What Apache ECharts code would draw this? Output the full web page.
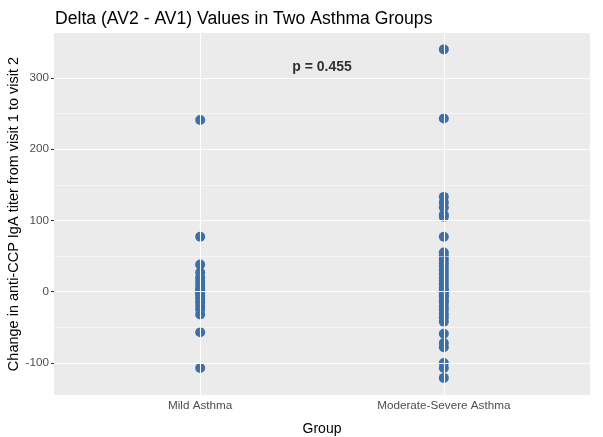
<!DOCTYPE html>
<html><head><meta charset="utf-8">
<script src="https://cdn.jsdelivr.net/npm/echarts@6/dist/echarts.min.js"></script>
<style>html,body{margin:0;padding:0;background:#fff}#c{width:603px;height:437px}</style>
</head><body><div id="c"></div>
<script>
const categories = ["Mild Asthma", "Moderate-Severe Asthma"];
const mildValues = [241, 77, 38, 27, 20, 15, 10, 5, 2, 0, -3, -6, -10, -15, -20, -25, -32, -57, -107];
const moderateValues = [340, 243, 133, 125, 118, 108, 105, 77, 55, 50, 45, 40, 35, 30, 25, 20, 15, 10, 5, 2, 0, -2, -5, -8, -12, -15, -20, -25, -31, -36, -42, -59, -72, -78, -100, -107, -121];
const yTicks = [-100, 0, 100, 200, 300];
const yMinor = [-50, 50, 150, 250];
const pLabel = "p = 0.455";
const pPos = [1.5, 315];

const chart = echarts.init(document.getElementById('c'));
const gridLines = [];
yTicks.forEach(v => gridLines.push({yAxis: v, lineStyle: {width: 1.1}}));
yMinor.forEach(v => gridLines.push({yAxis: v, lineStyle: {width: 0.5}}));
categories.forEach((c, i) => gridLines.push({xAxis: i + 1, lineStyle: {width: 1.1}}));

const F = 'Liberation Sans, Arial, Helvetica';
const color = '#3C6EA8';
chart.setOption({
  animation: false,
  backgroundColor: '#fff',
  title: {text: 'Delta (AV2 - AV1) Values in Two Asthma Groups', left: 50, top: 5,
    textStyle: {fontFamily: F, fontSize: 17.6, fontWeight: 'normal', color: '#000'}},
  grid: {left: 54, right: 13, top: 33, bottom: 42, show: true, backgroundColor: '#EBEBEB', borderWidth: 0,
    containLabel: false, outerBoundsMode: 'none'},
  xAxis: {type: 'value', min: 0.4, max: 2.6, name: 'Group', nameLocation: 'middle', nameGap: 27,
    nameMoveOverlap: false,
    nameTextStyle: {fontFamily: F, fontSize: 14, color: '#000'},
    axisLine: {show: false}, splitLine: {show: false},
    axisTick: {show: true, customValues: [1, 2], length: 3, lineStyle: {color: '#333'}},
    axisLabel: {customValues: [1, 2], formatter: v => categories[Math.round(v) - 1] || '',
      fontFamily: F, fontSize: 11.7, color: '#4D4D4D', margin: 5}},
  yAxis: {type: 'value', min: -145, max: 363, name: 'Change in anti-CCP IgA titer from visit 1 to visit 2',
    nameLocation: 'middle', nameGap: 33, nameRotate: 90, nameMoveOverlap: false,
    nameTextStyle: {fontFamily: F, fontSize: 14.5, color: '#000'},
    axisLine: {show: false}, splitLine: {show: false},
    axisTick: {show: true, customValues: yTicks, length: 3, lineStyle: {color: '#333'}},
    axisLabel: {customValues: yTicks, fontFamily: F, fontSize: 11.7, color: '#4D4D4D', margin: 5}},
  series: [
    {type: 'scatter', silent: true, symbolSize: 0, data: [],
      markLine: {silent: true, symbol: 'none', label: {show: false}, animation: false,
        lineStyle: {color: '#fff', type: 'solid'}, data: gridLines}, z: 1},
    {type: 'scatter', symbolSize: 10, itemStyle: {color: color, opacity: 1},
      data: mildValues.map(v => [1, v]), z: 3},
    {type: 'scatter', symbolSize: 10, itemStyle: {color: color, opacity: 1},
      data: moderateValues.map(v => [2, v]), z: 3},
    {type: 'scatter', symbolSize: 0, data: [pPos], z: 4,
      label: {show: true, position: 'inside', formatter: pLabel,
        fontFamily: F, fontSize: 14, fontWeight: 'bold', color: '#000'}}
  ]
});
</script></body></html>
